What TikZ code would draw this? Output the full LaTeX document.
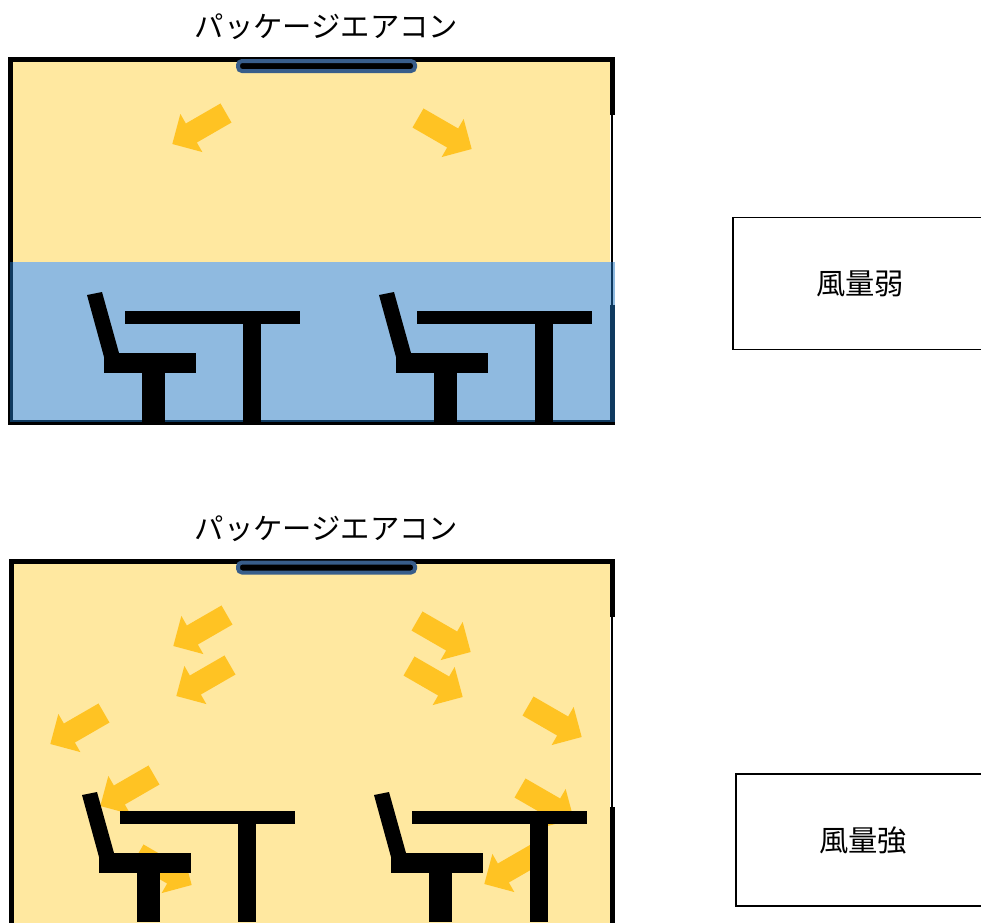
\documentclass[tikz,border=0pt]{standalone}
\usepackage{fontspec}
\setmainfont{Noto Sans CJK JP}
\usepackage{xcolor}
\usepackage{tikz}
\usetikzlibrary{positioning}

\definecolor{warmair}{RGB}{255,232,160}
\definecolor{coolair}{RGB}{31,117,193}
\definecolor{windfill}{RGB}{255,195,35}
\definecolor{acblue}{RGB}{56,93,138}

\begin{document}
\begin{tikzpicture}[
    x=0.75pt, y=-0.75pt,
    title/.style={font=\fontsize{22}{26}\selectfont, inner sep=0pt},
    level/.style={draw=black, line width=1.4pt, minimum width=190.5pt, minimum height=99pt, font=\fontsize{22}{26}\selectfont},
    aircon/.style={draw=acblue, fill=black, line width=3pt, rounded corners=3pt, minimum width=132.75pt, minimum height=7.5pt, inner sep=0pt},
    wall/.style={line width=3.75pt},
    door/.style={line width=1.5pt},
    warm/.style={fill=warmair},
    cool/.style={fill=coolair, fill opacity=0.5},
    wind/.pic={\fill[windfill] (0,-11) -- (40,-11) -- (40,-22) -- (62,0) -- (40,22) -- (40,11) -- (0,11) -- cycle;},
    desk/.pic={
        \fill (-13,-5) -- (2,-8) -- (19,53) -- (4,57) -- cycle; % chair back
        \fill (4,53) rectangle (96,73);
        \fill (42,73) rectangle (65,122);
        \fill (25,11) rectangle (200,24); % table
        \fill (143,24) rectangle (161,122);
    },
]
\useasboundingbox (0,0) rectangle (981,922);
\clip (0,0) rectangle (981,922);

% Room 1 (weak air flow)
\fill[warm] (12,61) rectangle (610,262);
\draw[wall] (612,115) |- (10.5,59.5) |- (612,422) -- (612,305);
\draw[door] (612,115) -- (612,305);
\fill[cool] (10,262) rectangle (615,422);
\node[aircon] (acA) at (326.5,66) {};
\node[title, above=14pt of acA] (titleA) {パッケージエアコン};
\pic[rotate=210] at (226,113) {wind};
\pic[rotate=-30] at (418,118) {wind};
\pic at (100,300) {desk};
\pic at (392,300) {desk};
\node[level] (weak) at (860,283.5) {風量弱};

% Room 2 (strong air flow)
\fill[warm] (12,562.5) rectangle (610,930);
\draw[wall] (612,617) |- (11.5,561) |- (612,925) -- (612,807);
\draw[door] (612,617) -- (612,807);
\node[aircon] (acB) at (326.5,567.5) {};
\node[title, above=14pt of acB] (titleB) {パッケージエアコン};
\foreach \x/\y in {227/615, 230/665, 104/713, 154/775, 538/853}
    \pic[rotate=210] at (\x,\y) {wind};
\foreach \x/\y in {138/854, 417/621, 409/666, 528/706, 520/788}
    \pic[rotate=-30] at (\x,\y) {wind};
\pic at (95,800) {desk};
\pic at (387,800) {desk};
\node[level] (strong) at (863,840) {風量強};
\end{tikzpicture}
\end{document}
